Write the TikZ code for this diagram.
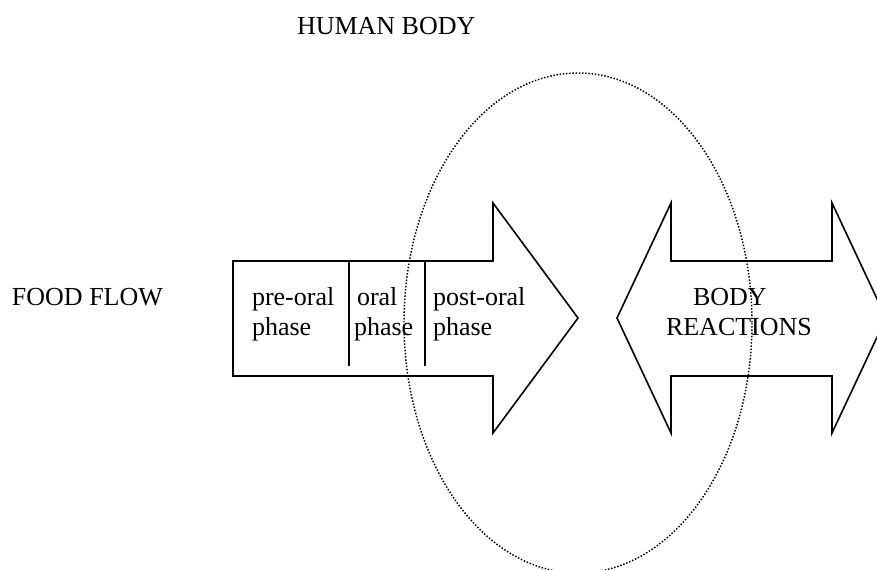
\documentclass[tikz,border=0pt]{standalone}
\usepackage{fontspec}
\setmainfont{Liberation Serif}
\begin{document}
\begin{tikzpicture}[x=0.75pt,y=-0.75pt,
  lbl/.style={anchor=base west,inner sep=0pt,outer sep=0pt,font=\fontsize{19.5pt}{22.5pt}\selectfont,align=left},
  shapeline/.style={draw=black,line width=1.2pt,line join=miter},
  bodyline/.style={draw=black,line width=1.1pt,dash pattern=on 1.1pt off 1.3pt}]
\useasboundingbox (0,0) rectangle (877,570);
\clip (0,0) rectangle (877,570);
% food flow arrow
\draw[shapeline] (233,261) -- (493,261) -- (493,203) -- (578,318) -- (493,433) -- (493,376) -- (233,376) -- cycle;
\draw[shapeline] (349,261) -- (349,366);
\draw[shapeline] (425,261) -- (425,366);
% body reactions double arrow
\draw[shapeline] (617,318) -- (671,203) -- (671,261) -- (832,261) -- (832,203) -- (886,318) -- (832,433) -- (832,376) -- (671,376) -- (671,433) -- cycle;
% human body ellipse
\draw[bodyline] (578,323) ellipse [x radius=174, y radius=250];
% texts
\node[lbl] (human) at (297,35) {HUMAN BODY};
\node[lbl] (food) at (12,305) {FOOD FLOW};
\node[lbl] (pre1) at (252,305) {pre-oral};
\node[lbl] (pre2) at (252,335) {phase};
\node[lbl] (or1) at (357,305) {oral};
\node[lbl] (or2) at (354,335) {phase};
\node[lbl] (po1) at (433,305) {post-oral};
\node[lbl] (po2) at (433,335) {phase};
\node[lbl] (br1) at (693,305) {BODY};
\node[lbl] (br2) at (666,335) {REACTIONS};
\end{tikzpicture}
\end{document}
